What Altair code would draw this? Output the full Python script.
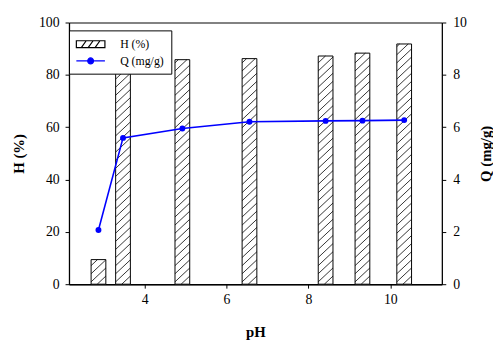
import altair as alt
import pandas as pd
import numpy as np

# ---- data ----
ph = [2.87, 3.47, 4.92, 6.56, 8.42, 9.32, 10.34]
h_pct = [9.4, 85.0, 85.8, 86.2, 87.2, 88.3, 91.8]
q_mgg = [2.07, 5.59, 5.95, 6.21, 6.24, 6.25, 6.27]
x_ticks = [4, 6, 8, 10]
h_ticks = [0, 20, 40, 60, 80, 100]
q_ticks = [0, 2, 4, 6, 8, 10]
series = ["H (%)", "Q (mg/g)"]

FONT = "Liberation Serif"
HALF = 0.18   # half bar width in pH units
RISE = 5.3    # hatch rise across a bar, in H units
GAP = 3.1     # vertical spacing of hatch lines, in H units

df = pd.DataFrame({"pH": ph, "H": h_pct, "Q": q_mgg})
df["x0"] = df["pH"] - HALF
df["x1"] = df["pH"] + HALF

rows = []
for c, h in zip(ph, h_pct):
    left, right = c - HALF, c + HALF
    y0 = -RISE
    while y0 < h:
        t0 = max(0.0, -y0 / RISE)
        t1 = min(1.0, (h - y0) / RISE)
        if t1 > t0:
            rows.append({
                "xs": left + t0 * (right - left), "xe": left + t1 * (right - left),
                "ys": y0 + t0 * RISE, "ye": y0 + t1 * RISE,
            })
        y0 += GAP
hatch_df = pd.DataFrame(rows)
leg_df = pd.DataFrame({"series": series})

xscale = alt.Scale(domain=[2.15, 11.26], nice=False, zero=False)
hscale = alt.Scale(domain=[0, 100], nice=False)
qscale = alt.Scale(domain=[0, 10], nice=False)

xaxis = alt.Axis(values=x_ticks, title="pH", labelPadding=5, domainWidth=1.6,
                 titleBaseline="alphabetic", titleY=53)
haxis = alt.Axis(values=h_ticks, title="H (%)", orient="left", labelPadding=6, domainWidth=1.3,
                 titleBaseline="middle", titleX=-51, titleY=133, titleAngle=270)
qaxis = alt.Axis(values=q_ticks, title="Q (mg/g)", orient="right", labelPadding=7,
                 titleBaseline="middle", titleX=44, titleY=133, titleAngle=270)

bars = alt.Chart(df).mark_bar(fill="white", stroke="black", strokeWidth=1).encode(
    x=alt.X("x0:Q", scale=xscale, axis=xaxis),
    x2="x1:Q",
    y=alt.Y("H:Q", scale=hscale, axis=haxis),
    y2=alt.datum(0),
)

hatch = alt.Chart(hatch_df).mark_rule(color="black", strokeWidth=0.8).encode(
    x=alt.X("xs:Q", scale=xscale, axis=xaxis),
    x2="xe:Q",
    y=alt.Y("ys:Q", scale=hscale, axis=haxis),
    y2="ye:Q",
)

H_PATH = ("M-2.42,-0.58H2.42V0.58H-2.42Z M-1.58,0.58L-0.75,-0.58 "
          "M-0.42,0.58L0.42,-0.58 M0.75,0.58L1.58,-0.58")
Q_PATH = "M-2.42,0H2.42 M-0.5,0A0.5,0.5 0 1,1 0.5,0A0.5,0.5 0 1,1 -0.5,0Z"

legend = alt.Legend(
    title=None, orient="none", legendX=0, legendY=8,
    fillColor="white", strokeColor="black", padding=7, rowPadding=4,
    labelFont=FONT, labelFontSize=12, labelColor="black",
    symbolOffset=8, labelOffset=23,
    symbolSize=144, symbolStrokeWidth=1.2, symbolOpacity=1,
)

legend_layer = alt.Chart(leg_df).mark_point(filled=True, opacity=0, size=144).encode(
    x=alt.value(0), y=alt.value(0),
    shape=alt.Shape("series:N", scale=alt.Scale(domain=series, range=[H_PATH, Q_PATH]), legend=legend),
    fill=alt.Fill("series:N", scale=alt.Scale(domain=series, range=["white", "#0000ff"]), legend=legend),
    stroke=alt.Stroke("series:N", scale=alt.Scale(domain=series, range=["black", "#0000ff"]), legend=legend),
)

line = alt.Chart(df).mark_line(color="#0000ff", strokeWidth=1.6).encode(
    x=alt.X("pH:Q", scale=xscale, axis=xaxis),
    y=alt.Y("Q:Q", scale=qscale, axis=qaxis),
)
pts = alt.Chart(df).mark_circle(color="#0000ff", size=36, opacity=1).encode(
    x=alt.X("pH:Q", scale=xscale, axis=xaxis),
    y=alt.Y("Q:Q", scale=qscale, axis=qaxis),
)

chart = alt.layer(
    alt.layer(bars, hatch, legend_layer),
    alt.layer(line, pts),
).resolve_scale(y="independent").properties(
    width=379, height=266,
    autosize=alt.AutoSizeParams(type="none"),
    padding={"left": 62, "top": 12, "right": 52, "bottom": 56},
).configure_view(
    stroke="black", strokeWidth=1
).configure_axis(
    grid=False, labelFont=FONT, labelFontSize=14, labelColor="black",
    titleFont=FONT, titleFontSize=15, titleFontWeight="bold", titleColor="black",
    tickColor="black", tickSize=4, domainColor="black", tickWidth=1, domainWidth=1,
)

chart.save("out.html", embed_options={"renderer": "svg", "actions": False})
